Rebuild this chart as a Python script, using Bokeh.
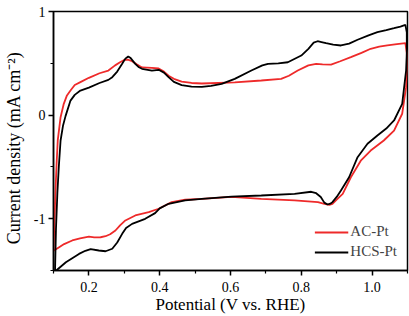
from bokeh.plotting import figure
from bokeh.models import FixedTicker, Legend, LegendItem, Range1d
from bokeh.embed import file_html
from bokeh.resources import INLINE

# AC-Pt (red) cyclic voltammogram, anodic then cathodic sweep
ac_x = [0.100, 0.103, 0.106, 0.109, 0.112, 0.120, 0.129, 0.138, 0.148, 0.160, 0.176, 0.200,
        0.230, 0.255, 0.274, 0.288, 0.301, 0.310, 0.322, 0.335, 0.350, 0.378, 0.397, 0.412,
        0.425, 0.440, 0.462, 0.490, 0.519, 0.612, 0.687, 0.743, 0.765, 0.790, 0.820, 0.842,
        0.860, 0.884, 0.910, 0.940, 0.970, 0.996, 1.020, 1.043, 1.070, 1.094, 1.098,
        1.099, 1.096, 1.085, 1.062, 1.033, 0.996, 0.968, 0.940, 0.917, 0.900, 0.888, 0.879,
        0.865, 0.847, 0.781, 0.687, 0.603, 0.519, 0.472, 0.434, 0.397, 0.369, 0.331, 0.303,
        0.288, 0.275, 0.260, 0.247, 0.233, 0.215, 0.200, 0.175, 0.153, 0.130, 0.116, 0.100]
ac_y = [-1.31, -1.00, -0.70, -0.45, -0.245, -0.02, 0.109, 0.19, 0.237, 0.29, 0.318, 0.36,
        0.404, 0.43, 0.48, 0.51, 0.534, 0.535, 0.52, 0.49, 0.46, 0.456, 0.45, 0.42,
        0.38, 0.35, 0.324, 0.31, 0.305, 0.315, 0.334, 0.35, 0.38, 0.43, 0.48, 0.495,
        0.49, 0.488, 0.52, 0.559, 0.60, 0.64, 0.66, 0.672, 0.685, 0.694, 0.60,
        0.45, 0.27, 0.013, -0.149, -0.245, -0.342, -0.44, -0.60, -0.76, -0.815, -0.856, -0.866,
        -0.857, -0.84, -0.824, -0.808, -0.79, -0.808, -0.817, -0.84, -0.904, -0.937, -0.969, -1.017,
        -1.065, -1.114, -1.15, -1.169, -1.179, -1.18, -1.172, -1.19, -1.21, -1.245, -1.275, -1.31]

# HCS-Pt (black) cyclic voltammogram
hcs_x = [0.104, 0.107, 0.111, 0.115, 0.120, 0.127, 0.134, 0.148, 0.160, 0.176, 0.200, 0.230,
         0.255, 0.266, 0.280, 0.294, 0.303, 0.311, 0.318, 0.331, 0.340, 0.350, 0.378, 0.397,
         0.412, 0.425, 0.440, 0.462, 0.490, 0.519, 0.545, 0.575, 0.612, 0.659, 0.690, 0.706,
         0.735, 0.762, 0.800, 0.820, 0.835, 0.846, 0.857, 0.870, 0.890, 0.912, 0.935, 0.959,
         0.990, 1.015, 1.040, 1.062, 1.080, 1.094, 1.098,
         1.098, 1.096, 1.085, 1.062, 1.040, 1.015, 0.987, 0.959, 0.935, 0.912, 0.900, 0.888,
         0.882, 0.874, 0.865, 0.855, 0.842, 0.828, 0.781, 0.687, 0.603, 0.519, 0.472, 0.425,
         0.400, 0.387, 0.359, 0.322, 0.305, 0.294, 0.280, 0.266, 0.247, 0.228, 0.205, 0.190,
         0.172, 0.135, 0.111, 0.100]
hcs_y = [-1.55, -1.10, -0.75, -0.50, -0.245, -0.10, -0.01, 0.14, 0.195, 0.237, 0.265, 0.31,
         0.34, 0.366, 0.42, 0.495, 0.545, 0.566, 0.55, 0.495, 0.465, 0.447, 0.43, 0.437,
         0.41, 0.366, 0.32, 0.29, 0.275, 0.273, 0.282, 0.302, 0.35, 0.43, 0.48, 0.495,
         0.50, 0.51, 0.575, 0.64, 0.70, 0.713, 0.705, 0.694, 0.68, 0.672, 0.69, 0.727,
         0.77, 0.80, 0.82, 0.839, 0.855, 0.871, 0.80,
         0.60, 0.43, 0.109, -0.052, -0.13, -0.197, -0.277, -0.406, -0.60, -0.728, -0.79, -0.84,
         -0.855, -0.863, -0.845, -0.79, -0.754, -0.74, -0.76, -0.776, -0.786, -0.808, -0.824, -0.856,
         -0.90, -0.946, -1.001, -1.05, -1.09, -1.146, -1.23, -1.29, -1.314, -1.307, -1.294, -1.31,
         -1.34, -1.42, -1.49, -1.53]

x_ticks = [0.2, 0.4, 0.6, 0.8, 1.0]
x_minor = [0.1, 0.3, 0.5, 0.7, 0.9, 1.1]
y_ticks = [-1, 0, 1]
y_minor = [-1.5, -0.5, 0.5]
series_names = ["AC-Pt", "HCS-Pt"]
x_title = "Potential (V vs. RHE)"
y_title = "Current density (mA cm\u207b\u00b2)"

FONT = "Liberation Serif"

p = figure(width=409, height=316, output_backend="svg", toolbar_location=None,
           x_range=Range1d(0.1, 1.1), y_range=Range1d(-1.5, 1.0),
           min_border_left=51, min_border_right=2, min_border_top=11, min_border_bottom=46)
p.xgrid.visible = False
p.ygrid.visible = False
p.outline_line_color = "black"
p.outline_line_width = 1.5
p.background_fill_color = "white"
p.border_fill_color = "white"

r1 = p.line(ac_x, ac_y, line_color="#ee2a2a", line_width=1.8)
r2 = p.line(hcs_x, hcs_y, line_color="black", line_width=1.8)

for ax in (p.xaxis[0], p.yaxis[0]):
    ax.axis_line_width = 1.5
    ax.major_tick_line_width = 1.5
    ax.minor_tick_line_width = 1.2
    ax.major_tick_out = 5
    ax.major_tick_in = 0
    ax.minor_tick_out = 3
    ax.minor_tick_in = 0
    ax.major_label_text_font = FONT
    ax.major_label_text_font_size = "14px"
    ax.major_label_text_color = "black"
    ax.axis_label_text_font = FONT
    ax.axis_label_text_font_style = "normal"
    ax.axis_label_text_color = "black"

p.xaxis[0].ticker = FixedTicker(ticks=x_ticks, minor_ticks=x_minor)
p.yaxis[0].ticker = FixedTicker(ticks=y_ticks, minor_ticks=y_minor)
p.xaxis[0].major_label_overrides = {t: "%.1f" % t for t in x_ticks}
p.yaxis[0].major_label_overrides = {t: "%d" % t for t in y_ticks}
p.xaxis[0].axis_label = x_title
# trailing no-break spaces nudge the rotated title slightly downward, as in the original
p.yaxis[0].axis_label = y_title + "\u00a0\u00a0\u00a0"
p.xaxis[0].axis_label_text_font_size = "17px"
p.yaxis[0].axis_label_text_font_size = "18px"
p.xaxis[0].major_label_standoff = 6
p.yaxis[0].major_label_standoff = 3
p.xaxis[0].axis_label_standoff = 0
p.yaxis[0].axis_label_standoff = 7

legend = Legend(items=[LegendItem(label=series_names[0], renderers=[r1]),
                       LegendItem(label=series_names[1], renderers=[r2])],
                location="bottom_right")
legend.label_text_font = FONT
legend.label_text_font_size = "15px"
legend.glyph_width = 34
legend.glyph_height = 14
legend.label_standoff = 2
legend.spacing = 3
legend.padding = 4
legend.margin = 6
legend.border_line_alpha = 0
legend.background_fill_alpha = 0
p.add_layout(legend)

open("out.html", "w").write(file_html(p, INLINE))
